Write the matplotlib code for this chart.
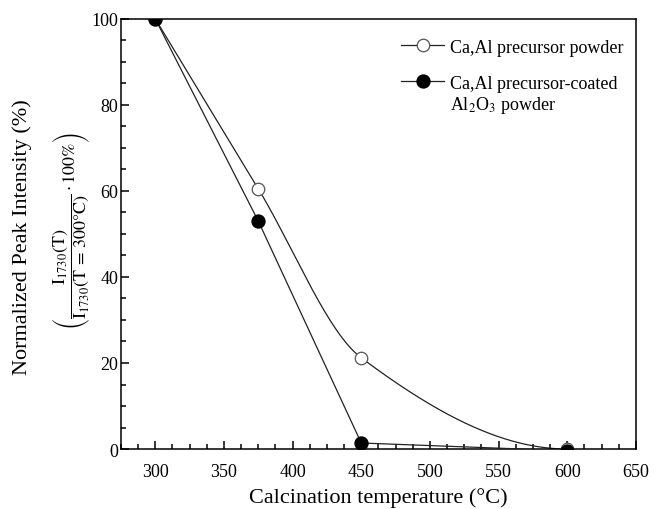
import numpy as np
from matplotlib import pyplot as plt
from matplotlib.ticker import MultipleLocator

# calcination temperature (deg C)
temp_powder = [300, 375, 450, 600]
temp_coated = [300, 375, 450, 600]

# normalized peak intensity (%)
peak_powder = [100, 60.5, 21.2, 0.0]
peak_coated = [100, 53.0, 1.4, -0.4]

label_powder = 'Ca,Al precursor powder'
label_coated = 'Ca,Al precursor-coated'
label_coated_2 = 'Al$_2$O$_3$ powder'

xticks = [300, 350, 400, 450, 500, 550, 600, 650]
yticks = [0, 20, 40, 60, 80, 100]


def pchip(x, y, xs):
    """monotone cubic curve through the measured points"""
    x = np.asarray(x, float)
    y = np.asarray(y, float)
    h = np.diff(x)
    d = np.diff(y) / h
    m = np.zeros_like(y)
    for k in range(1, len(x) - 1):
        if d[k - 1] * d[k] > 0:
            w1 = 2 * h[k] + h[k - 1]
            w2 = h[k] + 2 * h[k - 1]
            m[k] = (w1 + w2) / (w1 / d[k - 1] + w2 / d[k])
    m[0] = d[0]
    m[-1] = 0.0
    out = np.empty_like(xs)
    for i, xv in enumerate(xs):
        k = min(np.searchsorted(x, xv, side='right') - 1, len(x) - 2)
        t = (xv - x[k]) / h[k]
        out[i] = ((2 * t**3 - 3 * t**2 + 1) * y[k]
                  + (t**3 - 2 * t**2 + t) * h[k] * m[k]
                  + (-2 * t**3 + 3 * t**2) * y[k + 1]
                  + (t**3 - t**2) * h[k] * m[k + 1])
    return out


def main():
    plt.rcParams['font.family'] = ['Liberation Serif', 'DejaVu Serif']
    plt.rcParams['mathtext.fontset'] = 'stix'

    fig = plt.figure(figsize=(6.61, 5.10), dpi=100)
    ax = fig.add_axes([0.183, 0.1176, 0.779, 0.8434])

    xs = np.linspace(temp_powder[0], temp_powder[-1], 300)
    ax.plot(xs, pchip(temp_powder, peak_powder, xs), color='#222222',
            lw=0.9, zorder=2)
    ax.plot(temp_powder, peak_powder, ls='none', marker='o', ms=9,
            mfc='white', mec='#555555', mew=0.9, zorder=3)
    ax.plot(temp_coated, peak_coated, color='#222222', lw=0.9,
            marker='o', ms=9.3, mfc='black', mec='black', zorder=4)

    # legend handles
    h1, = ax.plot([], [], color='#222222', lw=0.9, marker='o', ms=9,
                  mfc='white', mec='#555555', mew=0.9)
    h2, = ax.plot([], [], color='#222222', lw=0.9, marker='o', ms=9.3,
                  mfc='black', mec='black')
    leg = ax.legend([h1, h2], [label_powder, label_coated], loc='upper left',
                    bbox_to_anchor=(0.53, 0.971), frameon=False,
                    fontsize=13, handlelength=2.4, handletextpad=0.3,
                    labelspacing=1.06, borderaxespad=0.0)

    ax.set_xlim(275, 650)
    ax.set_ylim(0, 100)
    ax.set_xticks(xticks)
    ax.set_yticks(yticks)
    ax.xaxis.set_minor_locator(MultipleLocator(12.5))
    ax.yaxis.set_minor_locator(MultipleLocator(5))
    ax.tick_params(which='both', direction='in', top=False, right=False,
                   width=1.1, labelsize=13)
    ax.tick_params(which='major', length=6)
    ax.tick_params(which='minor', length=3.5)
    ax.tick_params(axis='x', which='major', pad=10)
    ax.tick_params(axis='y', which='major', pad=2)
    for s in ax.spines.values():
        s.set_linewidth(1.1)

    ax.set_xlabel('Calcination temperature (°C)', fontsize=16, labelpad=5)
    fig.text(0.033, 0.535, 'Normalized Peak Intensity (%)', rotation=90,
             ha='center', va='center', fontsize=16)
    fig.text(0.109, 0.547,
             r'$\left(\dfrac{\mathrm{I}_{1730}(\mathrm{T})}'
             r'{\mathrm{I}_{1730}(\mathrm{T\,=\,300°C})}'
             r'\cdot 100\%\right)$',
             rotation=90, ha='center', va='center', fontsize=13)

    # second line of the coated-powder label, under the first one
    fig.canvas.draw()
    bb = leg.get_texts()[1].get_window_extent()
    fig.text(bb.x0, bb.y0 - 2, label_coated_2, ha='left', va='top',
             fontsize=13, transform=None)

    plt.savefig('out.png', dpi=100)


if __name__ == "__main__":
    main()
